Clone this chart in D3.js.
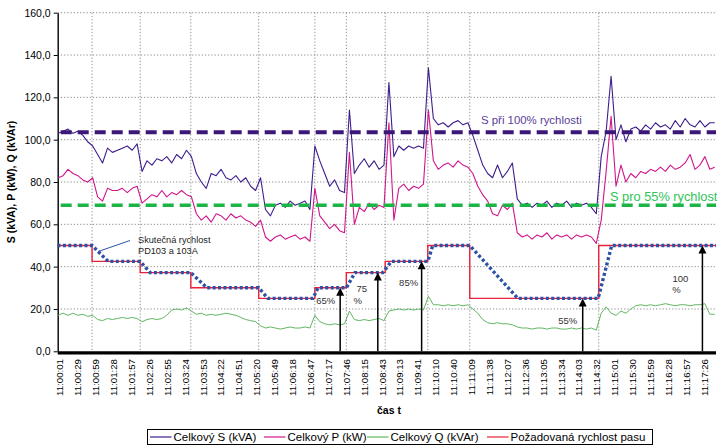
<!DOCTYPE html>
<html>
<head>
<meta charset="utf-8">
<script src="https://cdn.jsdelivr.net/npm/d3@7"></script>
<style>
  body { margin: 0; background: #fff; }
  svg { display: block; font-family: "Liberation Sans", Arial, sans-serif; }
</style>
</head>
<body>
<svg id="chart" width="717" height="445"></svg>
<script>
// category labels on the time axis (one every 29 s)
const timeLabels = ["11:00:01","11:00:29","11:00:59","11:01:28","11:01:57","11:02:26","11:02:55","11:03:24",
  "11:03:53","11:04:22","11:04:51","11:05:20","11:05:49","11:06:18","11:06:47","11:07:17","11:07:46",
  "11:08:15","11:08:43","11:09:13","11:09:41","11:10:10","11:10:40","11:11:09","11:11:38","11:12:07",
  "11:12:36","11:13:05","11:13:34","11:14:03","11:14:32","11:15:01","11:15:30","11:15:59","11:16:28",
  "11:16:57","11:17:26"];
const labelStep = 29;

// measured series, one value every 8 s starting at t = -3 s
const sampleStart = -3, sampleStep = 8;
const sTotal = [103,104,105,103,104,102,99,97,93,89,
  96,94,95,96,97,95,98,85,90,88,
  91,90,92,89,93,91,95,92,84,80,
  77,84,83,86,82,81,83,80,82,78,
  76,82,67,64,69,70,68,71,69,70,
  71,67,97,90,84,78,81,76,75,114,
  84,88,91,87,90,86,88,127,92,97,
  95,97,96,97,96,134,110,107,108,106,
  108,109,107,108,102,95,88,84,82,88,
  82,85,89,72,69,70,68,70,69,71,
  68,70,69,71,68,70,69,70,68,65,
  92,104,130,100,107,99,105,106,104,107,
  105,108,106,107,105,109,106,110,107,106,
  109,106,108,108];
const pTotal = [82,83,86,84,83,81,80,82,73,71,
  77,76,76,77,75,77,78,70,72,74,
  73,76,73,75,74,76,74,73,65,62,
  64,61,65,64,62,65,63,64,62,61,
  59,62,54,52,54,55,53,54,55,53,
  54,52,77,64,61,58,60,57,56,94,
  60,68,66,70,67,69,68,108,62,77,
  79,76,78,77,79,114,90,86,88,89,
  87,90,88,87,84,78,74,71,65,64,
  69,67,70,56,54,55,53,55,54,56,
  53,55,54,55,53,55,54,55,54,51,
  62,85,111,78,88,80,84,82,85,84,
  86,85,87,85,88,86,87,89,93,86,
  88,92,86,87];
const qTotal = [17,18,17,18,17,17.5,16.5,17,15,14.5,
  15.5,15,15.5,16,15.5,16,15.5,14,15,15.5,
  15,15.5,17,19.5,20,19.5,20.5,19,17.5,18,
  17,17.5,17,17.5,18,17.5,17,16,15,14.5,
  14,12,11,11.5,11,10.5,11,11.5,11,11,
  11.5,11,17,14,13,12.5,13,12.5,13,19,
  15,14.5,15,14.5,15,15.5,14.5,19,19.5,20,
  19.5,20,19.5,20,19.5,26,22,22,21.5,22,
  21.5,22,21.5,22,20,18,15,13.5,13,13.5,
  13,13,12.5,11.5,11,11,10.5,11,11,10.5,
  11,11,10.5,10.5,11,10.5,11,10.5,11,10,
  18,21,18,17,19,18,20,21.5,22,21.5,
  22,21.5,22,22.5,22,21.5,22,22,21.5,22,
  22,22.5,17.5,17.5];

// required belt speed: change times (s) and levels
const stepTimes = [52, 130, 212, 322, 413, 464, 527, 596, 664, 873];
const requiredSpeed = [50, 42.5, 37.2, 30, 25, 30, 37.2, 42.5, 50, 25, 50];

// actual speed PD103 / 103A (break points)
const actualTimes = [-4, 52, 78, 130, 146, 212, 238, 322, 337, 410, 418, 464, 478, 523, 537, 596, 604, 664, 742, 872, 894, 1063];
const actualSpeed = [50, 50, 42.5, 42.5, 37.2, 37.2, 30, 30, 25, 25, 30, 30, 37.2, 37.2, 42.5, 42.5, 50, 50, 25, 25, 50, 50];

// reference levels of S
const sFull = 103.5, sSlow = 69;

// arrows marking the measured speed steps
const arrowTimes = [454, 515, 586, 847, 1041];
const arrowValues = [30, 37.2, 42.5, 25, 50];
const arrowLabels = [["65%"], ["75", "%"], ["85%"], ["55%"], ["100", "%"]];

const legendNames = ["Celkový S (kVA)", "Celkový P (kW)", "Celkový Q (kVAr)", "Požadovaná rychlost pasu"];

const colS = "#3f1d8c", colP = "#d0168c", colQ = "#62b662", colReq = "#e8203c", colAct = "#2c52a6";

const svg = d3.select("#chart");
const plotLeft = 57.7, plotRight = 716, plotTop = 12.7, plotBottom = 351.3;
const tMin = -3.7, tMax = 1063;

const x = d3.scaleLinear().domain([tMin, tMax]).range([plotLeft, plotRight]);
const y = d3.scaleLinear().domain([0, 160]).range([plotBottom, plotTop]);

// horizontal grid
svg.append("g").selectAll("line").data(d3.range(20, 161, 20)).join("line")
  .attr("x1", plotLeft).attr("x2", plotRight)
  .attr("y1", d => y(d)).attr("y2", d => y(d))
  .attr("stroke", "#8a8a8a").attr("stroke-width", 1).attr("stroke-dasharray", "1.2,2");

// vertical grid at speed changes
svg.append("g").selectAll("line").data(stepTimes).join("line")
  .attr("x1", d => x(d)).attr("x2", d => x(d))
  .attr("y1", y(160)).attr("y2", y(0))
  .attr("stroke", "#8a8a8a").attr("stroke-width", 1).attr("stroke-dasharray", "1.2,2");

// y axis
const yAxis = svg.append("g").attr("transform", `translate(${plotLeft},0)`)
  .call(d3.axisLeft(y).tickValues(d3.range(0, 161, 20)).tickSize(4).tickSizeOuter(0)
    .tickFormat(d => d3.format(".1f")(d).replace(".", ",")));
yAxis.select(".domain").attr("stroke", "#000").attr("stroke-width", 1.4);
yAxis.selectAll(".tick line").attr("stroke", "#000");
yAxis.selectAll(".tick text").attr("font-size", 10.5).attr("font-family", "Liberation Sans, Arial, sans-serif")
  .attr("fill", "#000").attr("x", -7);

svg.append("text")
  .attr("transform", `translate(15,${(plotTop + plotBottom) / 2}) rotate(-90)`)
  .attr("text-anchor", "middle").attr("font-size", 10.5).attr("font-weight", "bold")
  .text("S (kVA), P (kW), Q (kVAr)");

// series
const sampleT = i => sampleStart + i * sampleStep;
const line = d3.line().x(d => x(d[0])).y(d => y(d[1]));
function drawSeries(vals, color, w) {
  svg.append("path")
    .attr("d", line(vals.map((v, i) => [sampleT(i), v])))
    .attr("fill", "none").attr("stroke", color).attr("stroke-width", w)
    .attr("stroke-linejoin", "round");
}
drawSeries(sTotal, colS, 1.1);
drawSeries(pTotal, colP, 1.1);
drawSeries(qTotal, colQ, 1);

// reference dashed levels
svg.append("line").attr("x1", x(tMin) + 3).attr("x2", plotRight)
  .attr("y1", y(sFull)).attr("y2", y(sFull))
  .attr("stroke", "#3b1878").attr("stroke-width", 3.8).attr("stroke-dasharray", "11,6");
svg.append("line").attr("x1", x(tMin) + 3).attr("x2", plotRight)
  .attr("y1", y(sSlow)).attr("y2", y(sSlow))
  .attr("stroke", "#1cb444").attr("stroke-width", 3.5).attr("stroke-dasharray", "11,6");

svg.append("text").attr("x", 481).attr("y", y(sFull) - 8)
  .attr("font-size", 11.4).attr("fill", "#5a3d9a").text("S při 100% rychlosti");
svg.append("text").attr("x", 610).attr("y", y(sSlow) - 4.5)
  .attr("font-size", 12.8).attr("fill", "#2ec456").text("S pro 55% rychlost");

// required speed as a step line
const reqPts = [[tMin, requiredSpeed[0]]];
stepTimes.forEach((t, i) => { reqPts.push([t, requiredSpeed[i]]); reqPts.push([t, requiredSpeed[i + 1]]); });
reqPts.push([tMax, requiredSpeed[requiredSpeed.length - 1]]);
svg.append("path").attr("d", line(reqPts))
  .attr("fill", "none").attr("stroke", colReq).attr("stroke-width", 1.4);

// actual speed, dotted
svg.append("path").attr("d", line(actualTimes.map((t, i) => [t, actualSpeed[i]])))
  .attr("fill", "none").attr("stroke", colAct).attr("stroke-width", 3.4)
  .attr("stroke-dasharray", "3,2.4");

// annotation for the actual speed
svg.append("line").attr("x1", 130).attr("y1", 240.5).attr("x2", x(62)).attr("y2", 251.5)
  .attr("stroke", colAct).attr("stroke-width", 1);
const ann = svg.append("text").attr("font-size", 9.2).attr("fill", "#222");
ann.append("tspan").attr("x", 138).attr("y", 242.5).text("Skutečná rychlost");
ann.append("tspan").attr("x", 138).attr("y", 253.5).text("PD103 a 103A");

// arrows
const arrowLabelPos = [[-14.5, 16], [-16, 19.5], [-13, 24.5], [-15, 25.5], [-22, 36.5]];
arrowTimes.forEach((t, i) => {
  const ax = x(t), ay = y(arrowValues[i]);
  svg.append("line").attr("x1", ax).attr("x2", ax).attr("y1", plotBottom).attr("y2", ay + 6)
    .attr("stroke", "#000").attr("stroke-width", 1.5);
  svg.append("path").attr("d", `M${ax},${ay}L${ax - 4},${ay + 8}L${ax + 4},${ay + 8}Z`).attr("fill", "#000");
  const [dx, dy] = arrowLabelPos[i];
  const tx = svg.append("text").attr("font-size", 9.5).attr("fill", "#333").attr("text-anchor", "middle");
  arrowLabels[i].forEach((s, k) => {
    tx.append("tspan").attr("x", ax + dx - (k > 0 ? 4 : 0)).attr("y", ay + dy + k * 11.5).text(s);
  });
});

// x axis
svg.append("line").attr("x1", plotLeft).attr("x2", plotRight).attr("y1", plotBottom + 1.6).attr("y2", plotBottom + 1.6)
  .attr("stroke", "#000").attr("stroke-width", 3.4);
svg.append("g").selectAll("text").data(timeLabels).join("text")
  .attr("transform", (d, i) => `translate(${x(i * labelStep)},359) rotate(-90)`)
  .attr("text-anchor", "end").attr("dy", "0.35em").attr("font-size", 9.7).attr("fill", "#000")
  .text(d => d);
svg.append("text").attr("x", 377).attr("y", 414).attr("font-size", 10.5).attr("font-weight", "bold").text("čas t");

// legend
svg.append("rect").attr("x", 147.5).attr("y", 429.5).attr("width", 505).attr("height", 15)
  .attr("fill", "#fff").attr("stroke", "#000").attr("stroke-width", 1);
const legendX = [150, 264, 367, 487];
const legendCol = [colS, colP, colQ, colReq];
legendNames.forEach((n, i) => {
  svg.append("line").attr("x1", legendX[i]).attr("x2", legendX[i] + 21.5).attr("y1", 437).attr("y2", 437)
    .attr("stroke", legendCol[i]).attr("stroke-width", 1.2);
  svg.append("text").attr("x", legendX[i] + 23.5).attr("y", 441).attr("font-size", 11.5).text(n);
});
</script>
</body>
</html>
